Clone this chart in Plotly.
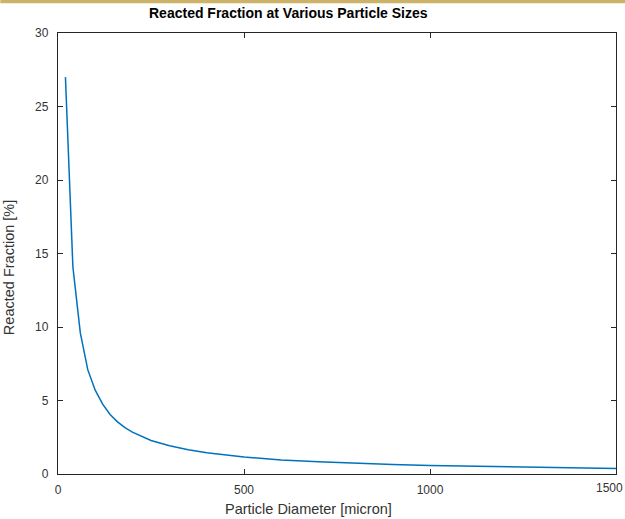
import plotly.graph_objects as go

diameter = [20, 40, 60, 80, 100, 120, 140, 160, 180, 200, 250, 300, 350, 400,
            500, 600, 700, 800, 900, 1000, 1200, 1500]
reacted_fraction = [27.0, 14.1, 9.6, 7.1, 5.7, 4.75, 4.05, 3.55, 3.15, 2.85, 2.28,
                    1.92, 1.65, 1.45, 1.15, 0.96, 0.83, 0.72, 0.64, 0.58, 0.48, 0.38]
x_ticks = [0, 500, 1000, 1500]
x_tick_labels = ["0", "500", "1000", "1500"]
y_ticks = [0, 5, 10, 15, 20, 25, 30]

title_text = "Reacted Fraction at Various Particle Sizes"
x_label = "Particle Diameter [micron]"
y_label = "Reacted Fraction [%]"

FONT = "Liberation Sans, Arial, sans-serif"
W, H = 625, 519
L, R, T, B = 57.7, 9.3, 33.3, 45
pw = W - L - R
ph = H - T - B

fig = go.Figure()
fig.add_trace(go.Scatter(x=diameter, y=reacted_fraction, mode="lines",
                         line=dict(color="#0072BD", width=1.5), showlegend=False))

tick_font = dict(family=FONT, size=12, color="#333333")
axis_common = dict(showline=True, linecolor="#262626", linewidth=1.3, mirror="ticks",
                   ticks="inside", ticklen=5, tickwidth=1.3, tickcolor="#262626",
                   showgrid=False, zeroline=False, tickfont=tick_font)
# last x label drawn as annotation so it stays inside the page, as in the reference
fig.update_xaxes(range=[0, 1500], tickvals=x_ticks,
                 ticktext=x_tick_labels[:-1] + [""],
                 ticklabelstandoff=4, **axis_common)
fig.update_yaxes(range=[0, 30], tickvals=y_ticks, ticktext=[str(v) for v in y_ticks],
                 ticklabelstandoff=6, **axis_common)

def px_x(p):
    return (p - L) / pw

def px_y(p):
    return (H - B - p) / ph

fig.add_annotation(text=x_tick_labels[-1], xref="paper", yref="paper",
                   x=px_x(609), y=px_y(488), xanchor="center", yanchor="middle",
                   showarrow=False, font=tick_font)
fig.add_annotation(text="<b>" + title_text + "</b>", xref="paper", yref="paper",
                   x=px_x(288), y=px_y(13), xanchor="center", yanchor="middle",
                   showarrow=False, font=dict(family=FONT, size=14, color="#000000"))
fig.add_annotation(text=x_label, xref="paper", yref="paper",
                   x=px_x(308), y=px_y(509), xanchor="center", yanchor="middle",
                   showarrow=False, font=dict(family=FONT, size=14.5, color="#333333"))
fig.add_annotation(text=y_label, xref="paper", yref="paper", textangle=-90,
                   x=px_x(9), y=px_y(268), xanchor="center", yanchor="middle",
                   showarrow=False, font=dict(family=FONT, size=14.5, color="#333333"))

fig.add_shape(type="rect", xref="paper", yref="paper",
              x0=px_x(0), x1=px_x(W), y0=px_y(3.5), y1=px_y(0),
              fillcolor="#CDB36A", line=dict(width=0), layer="above")

fig.update_layout(width=W, height=H, margin=dict(l=L, r=R, t=T, b=B, autoexpand=False),
                  paper_bgcolor="white", plot_bgcolor="white")

fig.write_html("out.html", config={"displayModeBar": False},
               post_script="document.body.style.margin='0';document.body.style.overflow='hidden';")
